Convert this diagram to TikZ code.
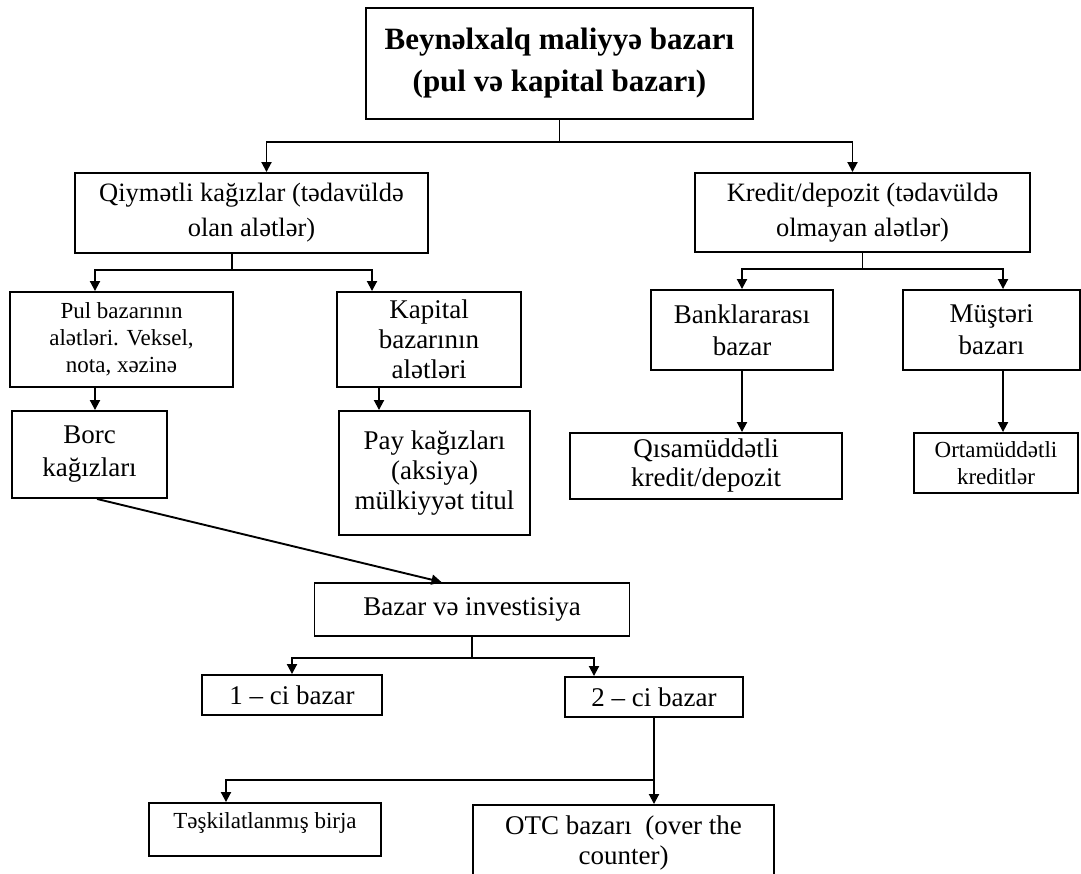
\documentclass[tikz,border=0pt]{standalone}
\usepackage{fontspec}
\setmainfont{Liberation Serif}
\usetikzlibrary{arrows.meta}

\tikzstyle{block}=[rectangle,
    line width=1.9pt,
    draw=black,
    align=center,
    inner sep=0pt,
    font=\fontsize{27}{32}\selectfont]
\tikzstyle{smallblock}=[block,
    font=\fontsize{23}{27}\selectfont]
\tikzstyle{line}=[line width=1.9pt]

\begin{document}
\begin{tikzpicture}[x=1pt,y=-1pt,>={Triangle[length=10pt,width=10pt]}]
    \useasboundingbox (0,0) rectangle (1081,874);
    \clip (0,0) rectangle (1081,874);

    \node (top) [block,minimum width=387pt,minimum height=111pt,
        font=\bfseries\fontsize{31}{42}\selectfont] at (559.5,63.5)
        {Beynəlxalq maliyyə bazarı\\(pul və kapital bazarı)};

    \node (qiy) [block,minimum width=353pt,minimum height=80pt,
        font=\fontsize{26.5}{35}\selectfont] at (251.5,213)
        {Qiymətli kağızlar (tədavüldə\\olan alətlər)};
    \node (kred) [block,minimum width=335pt,minimum height=79pt,
        font=\fontsize{26.5}{35}\selectfont] at (862.5,212.5)
        {Kredit/depozit (tədavüldə\\olmayan alətlər)};

    \node (pul) [smallblock,minimum width=223pt,minimum height=95pt] at (121.5,339.5)
        {Pul bazarının\\alətləri. Veksel,\\nota, xəzinə};
    \node (borc) [block,minimum width=155pt,minimum height=87pt,
        font=\fontsize{27}{33}\selectfont] at (89.5,454.5)
        {Borc\\kağızları};
    \node (kap) [block,minimum width=184pt,minimum height=95pt,
        font=\fontsize{27}{30}\selectfont] at (429,339.5)
        {Kapital\\bazarının\\alətləri};
    \node (pay) [block,minimum width=191pt,minimum height=124pt,
        font=\fontsize{27}{30}\selectfont] at (434.5,473)
        {Pay kağızları\\(aksiya)\\mülkiyyət titul};

    \node (bank) [block,minimum width=182pt,minimum height=80pt] at (742,330)
        {Banklararası\\bazar};
    \node (must) [block,minimum width=177pt,minimum height=80pt] at (991.5,330)
        {Müştəri\\bazarı};
    \node (qisa) [block,minimum width=272pt,minimum height=66pt,
        font=\fontsize{27}{29}\selectfont] at (706,466)
        {Qısamüddətli\\kredit/depozit};
    \node (orta) [smallblock,minimum width=164pt,minimum height=60pt] at (996,463)
        {Ortamüddətli\\kreditlər};

    \node (bazar) [block,minimum width=315pt,minimum height=53pt] at (472,609.5)
        {Bazar və investisiya};
    \node (ci1) [block,minimum width=180pt,minimum height=40pt] at (292,695)
        {1 – ci bazar};
    \node (ci2) [block,minimum width=178pt,minimum height=40pt] at (654,697)
        {2 – ci bazar};

    \node (teskil) [smallblock] at (265,829.5)
        {\begin{minipage}[c][53pt][t]{232pt}\centering\vspace*{10pt}Təşkilatlanmış birja\end{minipage}};
    \node (otc) [block,font=\fontsize{27}{30}\selectfont] at (623.5,855)
        {\begin{minipage}[c][100pt][t]{301pt}\centering\vspace*{11pt}OTC bazarı\ \ (over the\\counter)\end{minipage}};

    \draw [line] (top.south) -- ++(0,22) coordinate (t1);
    \draw [line,->] (t1) -| ([xshift=15pt]qiy.north);
    \draw [line,->] (t1) -| ([xshift=-10pt]kred.north);

    \coordinate (q1) at (232,270);
    \draw [line] (qiy.south -| q1) -- (q1);
    \draw [line,->] (q1) -| ([xshift=-26.5pt]pul.north);
    \draw [line,->] (q1) -| ([xshift=-57pt]kap.north);

    \draw [line] (kred.south) -- ++(0,16) coordinate (k1);
    \draw [line,->] (k1) -| (bank.north);
    \draw [line,->] (k1) -| ([xshift=11.5pt]must.north);

    \draw [line,->] ([xshift=-26.5pt]pul.south) -- ([xshift=-26.5pt]pul.south |- borc.north);
    \draw [line,->] ([xshift=-50pt]kap.south) -- ([xshift=-50pt]kap.south |- pay.north);
    \draw [line,->] (bank.south) -- (bank.south |- qisa.north);
    \draw [line,->] ([xshift=11.5pt]must.south) -- ([xshift=11.5pt]must.south |- orta.north);

    \draw [line,->] ([xshift=7.5pt]borc.south) -- ([xshift=-30.5pt]bazar.north);

    \draw [line] (bazar.south) -- ++(0,21) coordinate (b1);
    \draw [line,->] (b1) -| (ci1.north);
    \draw [line,->] (b1) -| ([xshift=-60pt]ci2.north);

    \draw [line] (ci2.south) -- ++(0,62) coordinate (c1);
    \draw [line,->] (c1) -- (c1 |- otc.north);
    \draw [line,->] (c1) -| ([xshift=-39pt]teskil.north);
\end{tikzpicture}
\end{document}
